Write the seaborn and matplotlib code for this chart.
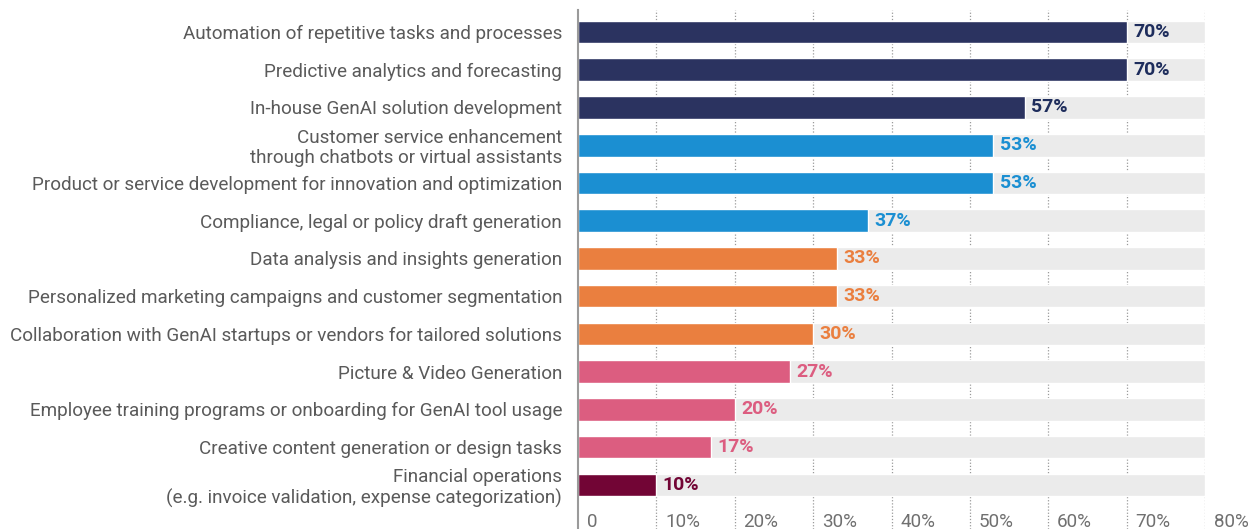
import matplotlib
matplotlib.use("Agg")
import matplotlib.pyplot as plt
import seaborn as sns
import pandas as pd

categories = [
    "Automation of repetitive tasks and processes",
    "Predictive analytics and forecasting",
    "In-house GenAI solution development",
    "Customer service enhancement\nthrough chatbots or virtual assistants",
    "Product or service development for innovation and optimization",
    "Compliance, legal or policy draft generation",
    "Data analysis and insights generation",
    "Personalized marketing campaigns and customer segmentation",
    "Collaboration with GenAI startups or vendors for tailored solutions",
    "Picture & Video Generation",
    "Employee training programs or onboarding for GenAI tool usage",
    "Creative content generation or design tasks",
    "Financial operations\n(e.g. invoice validation, expense categorization)",
]
values = [70, 70, 57, 53, 53, 37, 33, 33, 30, 27, 20, 17, 10]
groups = ["g1", "g1", "g1", "g2", "g2", "g2", "g3", "g3", "g3", "g4", "g4", "g4", "g5"]
group_colors = {"g1": "#2B3360", "g2": "#1B8FD2", "g3": "#EA7F3F", "g4": "#DC5D80", "g5": "#720535"}
label_colors = {"g1": "#1E2D5C", "g2": "#1B8FD2", "g3": "#EA7F3F", "g4": "#DC5D80", "g5": "#720535"}
max_value = 80
tick_values = [0, 10, 20, 30, 40, 50, 60, 70, 80]
tick_labels = ["0", "10%", "20%", "30%", "40%", "50%", "60%", "70%", "80%"]

sns.set_theme(style="white")
plt.rcParams["font.family"] = ["Roboto", "DejaVu Sans"]

df = pd.DataFrame({"category": categories, "value": values, "group": groups,
                   "full": [max_value] * len(categories)})

fig = plt.figure(figsize=(12.5, 5.29), dpi=100)
ax = fig.add_axes([578 / 1250, 0.0, (1205 - 578) / 1250, 1 - 10 / 529])

sns.barplot(data=df, y="category", x="full", color="#EBEBEB", width=0.6,
            orient="h", ax=ax, saturation=1, zorder=1)
sns.barplot(data=df, y="category", x="value", hue="group", palette=group_colors,
            width=0.6, orient="h", ax=ax, saturation=1, dodge=False, legend=False, zorder=2)

ax.set_xlim(0, max_value)
ax.set_ylim(13.17, -0.583)
ax.set_xlabel("")
ax.set_ylabel("")

for x in tick_values[1:]:
    ax.axvline(x, color="#9A9A9A", linestyle=(0, (1, 1.5)), linewidth=0.9, zorder=0)

for sp in ["top", "right", "bottom"]:
    ax.spines[sp].set_visible(False)
ax.spines["left"].set_color("#9A9A9A")
ax.spines["left"].set_linewidth(1.5)

ax.set_xticks([])
ax.tick_params(axis="y", length=0, pad=11.5, labelsize=13.6, labelcolor="#5A5A5A")
for lbl in ax.get_yticklabels():
    lbl.set_linespacing(1.15)

for i, (v, g) in enumerate(zip(values, groups)):
    ax.text(v + 0.8, i, f"{v}%", va="center", ha="left", fontsize=14, fontweight="bold",
            color=label_colors[g], zorder=3)

for tv, tl in zip(tick_values, tick_labels):
    ax.text(tv + 1.1, 12.98, tl, va="center", ha="left", fontsize=13.6, color="#707070")

fig.savefig("out.png", dpi=100)
